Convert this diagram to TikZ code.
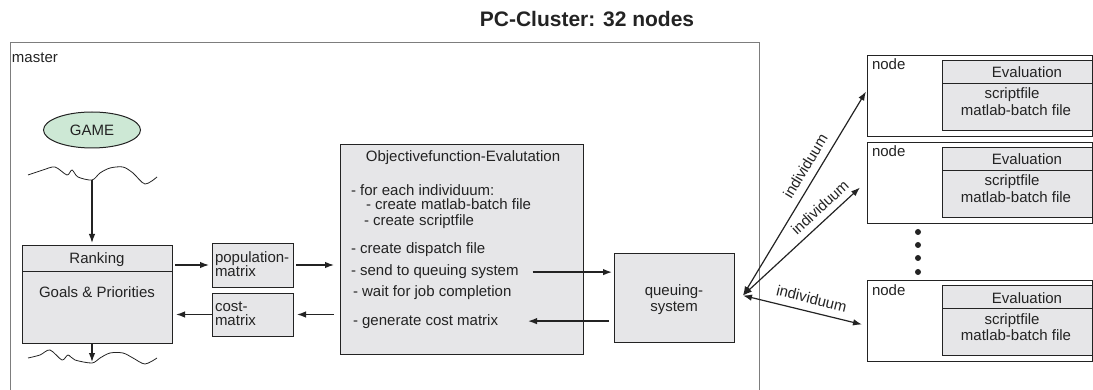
\documentclass[tikz,border=0pt]{standalone}
\usepackage{fontspec}
\setmainfont{Liberation Sans}
\usetikzlibrary{arrows.meta,shapes.geometric,calc}

\definecolor{boxfill}{RGB}{230,230,232}
\definecolor{gamefill}{RGB}{205,232,213}
\definecolor{lineC}{RGB}{35,35,35}
\definecolor{frameC}{RGB}{125,125,125}

\begin{document}
\begin{tikzpicture}[x=1pt,y=-1pt,
  every node/.style={font=\fontsize{15}{15.5}\selectfont, inner sep=0pt, outer sep=0pt, text=lineC},
  box/.style={draw=lineC, fill=boxfill, line width=0.9pt, anchor=north west},
  plainbox/.style={draw=lineC, fill=white, line width=0.9pt, anchor=north west},
  txt/.style={anchor=base west},
  ctxt/.style={anchor=base},
  arr/.style={draw=lineC, line width=1.3pt, -{Latex[length=9pt,width=6.5pt]}},
  dblarr/.style={draw=lineC, line width=1.2pt, {Latex[length=9pt,width=6.5pt]}-{Latex[length=9pt,width=6.5pt]}},
  wave/.style={draw=lineC, line width=0.8pt}
]
\useasboundingbox (0,0) rectangle (1093,390);
\clip (0,0) rectangle (1093,390);

% heading
\node[ctxt, font=\bfseries\fontsize{21}{21}\selectfont] (title) at (587,27) {PC-Cluster: 32 nodes};

% master frame (open towards the bottom)
\node[draw=frameC, line width=0.8pt, anchor=north west, minimum width=749, minimum height=400] (master) at (10,42) {};
\node[txt] (masterlbl) at (12,63) {master};

% game and its wavy flows
\node[ellipse, draw=lineC, fill=gamefill, line width=1pt, minimum width=97, minimum height=36] (game) at (92,130) {GAME};
\draw[wave] plot[smooth, tension=0.5] coordinates {(28,175) (43,170) (55,167) (67,175) (72,170) (78,177) (92,180) (100,173) (110,168) (123,167) (133,173) (145,184) (157,177)};
\draw[wave] plot[smooth, tension=0.5] coordinates {(28,358) (40,355) (50,350) (62,360) (68,355) (75,360) (92,363) (100,358) (110,353) (123,353) (133,358) (145,364) (157,358)};
\coordinate (wtop) at (92,180);
\coordinate (wbot) at (92,362);

% ranking
\node[box, minimum width=150, minimum height=26] (rkh) at (22,245) {};
\node[box, minimum width=150, minimum height=72] (rkb) at (22,271) {};
\node[ctxt] (rktitle) at (97,264) {Ranking};
\node[ctxt] (rkgoals) at (97,298) {Goals \& Priorities};

% matrices
\node[box, minimum width=81, minimum height=44] (pop) at (212,243) {};
\node[txt] (poptxt1) at (215,263) {population-};
\node[txt] (poptxt2) at (215,277) {matrix};
\node[box, minimum width=81, minimum height=43] (cost) at (212,293) {};
\node[txt] (costtxt1) at (215,312) {cost-};
\node[txt] (costtxt2) at (215,326) {matrix};

% objective function evaluation
\node[box, minimum width=243, minimum height=210] (obj) at (340,144) {};
\node[ctxt] (objtitle) at (463,162) {Objectivefunction-Evalutation};
\node[txt] (o1) at (351,196) {- for each individuum:};
\node[txt] (o2) at (366,210) {- create matlab-batch file};
\node[txt] (o3) at (364,226) {- create scriptfile};
\node[txt] (o4) at (351,254) {- create dispatch file};
\node[txt] (send) at (351,276) {- send to queuing system};
\node[txt] (o6) at (353,297) {- wait for job completion};
\node[txt] (gen) at (353,325) {- generate cost matrix};

% queuing system
\node[box, minimum width=120, minimum height=89] (queue) at (614,253) {};
\node[ctxt] (queuetxt1) at (674,295) {queuing-};
\node[ctxt] (queuetxt2) at (674,312) {system};

% cluster nodes
\foreach \i/\t in {1/55,2/142,3/280} {
  \node[plainbox, minimum width=225, minimum height=81] (n\i) at (867,\t) {};
  \node[txt] (nl\i) at (872,{\t+15}) {node};
  \node[box, minimum width=150, minimum height=23] (eh\i) at (942,{\t+5}) {};
  \node[box, minimum width=150, minimum height=47] (eb\i) at (942,{\t+28}) {};
  \node[ctxt] (ev\i) at (1027,{\t+23}) {Evaluation};
  \node[ctxt] (sf\i) at (1012,{\t+44}) {scriptfile};
  \node[ctxt] (mb\i) at (1016,{\t+61}) {matlab-batch file};
}
\foreach \k/\y in {a/232,b/245,c/258,d/272}
  \fill[lineC] (918,\y) circle (3pt);

% flows on the master
\draw[arr] (wtop) -- ($(wtop|-rkh.north)+(0,-2)$);
\draw[arr] (wbot|-rkb.south) -- (wbot);
\draw[arr] ($(rkb.east|-pop.west)+(3,0)$) -- ($(pop.west)+(-3,0)$);
\draw[arr] ($(pop.east)+(3,0)$) -- ($(obj.west|-pop.east)+(-6,0)$);
\draw[arr] ($(obj.west|-cost.east)+(-6,0)$) -- ($(cost.east)+(4,0)$);
\draw[arr] (cost.west) -- ($(rkb.east|-cost.west)+(4,0)$);
\draw[arr] ($(send.east)+(14,0)$) -- ($(queue.west|-send.east)+(-2,0)$);
\draw[arr] ($(queue.west|-gen.east)+(-5,0)$) -- ($(gen.east)+(30,0)$);

% dispatch to the cluster
\coordinate (hub) at ($(queue.east)+(9,-2)$);
\draw[dblarr] (hub) -- node[sloped, above=8pt, pos=0.6] (l1) {individuum} ($(n1.west)+(-1,-4)$);
\draw[dblarr] (hub) -- node[sloped, above=7pt, pos=0.73] (l2) {individuum} ($(n2.west)+(-7,5)$);
\draw[dblarr] (hub) -- node[sloped, above=8pt, pos=0.55] (l3) {individuum} ($(n3.west)+(-5,4)$);
\end{tikzpicture}
\end{document}
